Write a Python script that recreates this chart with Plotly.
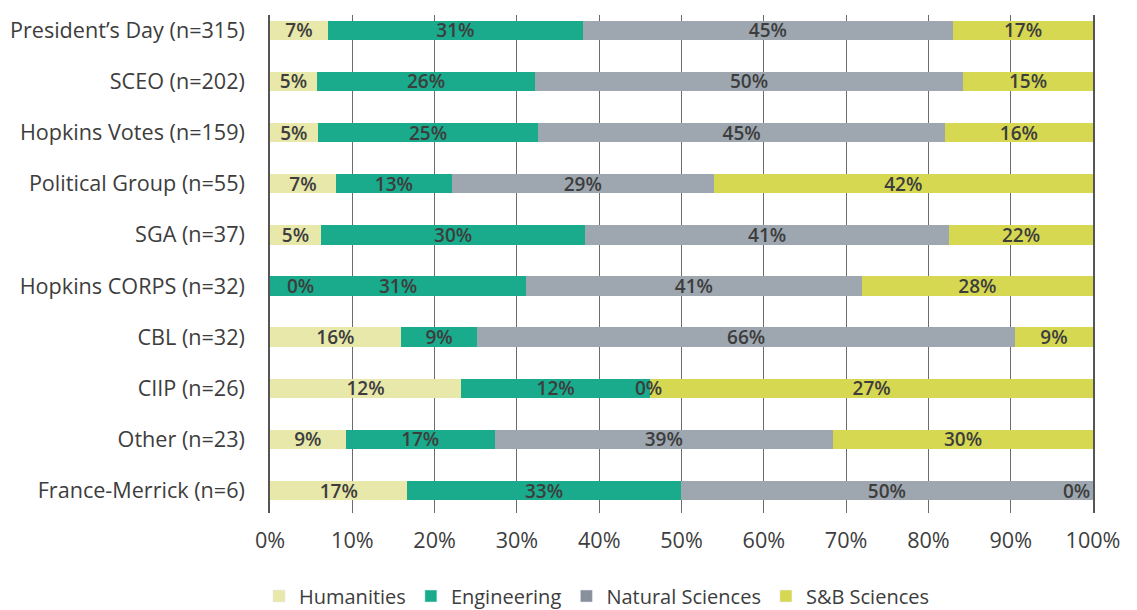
import plotly.graph_objects as go

categories = [
    "President’s Day (n=315)", "SCEO (n=202)", "Hopkins Votes (n=159)",
    "Political Group (n=55)", "SGA (n=37)", "Hopkins CORPS (n=32)",
    "CBL (n=32)", "CIIP (n=26)", "Other (n=23)", "France-Merrick (n=6)",
]
series_names = ["Humanities", "Engineering", "Natural Sciences", "S&B Sciences"]

# bar segment shares (% of bar length)
humanities_share = [7.05, 5.7, 5.8, 8.0, 6.2, 0.0, 15.9, 23.2, 9.2, 16.7]
engineering_share = [30.95, 26.5, 26.8, 14.1, 32.1, 31.1, 9.3, 23.0, 18.1, 33.2]
natural_share = [45.0, 52.0, 49.4, 31.8, 44.2, 40.8, 65.3, 0.0, 41.1, 50.1]
sb_share = [17.0, 15.8, 18.0, 46.1, 17.5, 28.1, 9.5, 53.8, 31.6, 0.0]

# printed data labels (%)
humanities_label = [7, 5, 5, 7, 5, 0, 16, 12, 9, 17]
engineering_label = [31, 26, 25, 13, 30, 31, 9, 12, 17, 33]
natural_label = [45, 50, 45, 29, 41, 41, 66, 0, 39, 50]
sb_label = [17, 15, 16, 42, 22, 28, 9, 27, 30, 0]

x_ticks = list(range(0, 101, 10))
x_tick_text = [f"{v}%" for v in x_ticks]

bar_colors = ["#e8e8aa", "#19ab8c", "#9ea7b0", "#d6d852"]
legend_colors = ["#e8e8aa", "#19ab8c", "#87909b", "#d6d852"]

shares = [humanities_share, engineering_share, natural_share, sb_share]
labels = [humanities_label, engineering_label, natural_label, sb_label]

FONT = "Open Sans"
TXT = "#3d3d3d"
LABEL_FONT = dict(family=FONT, size=19, color=TXT, weight=600)

fig = go.Figure()
for name, sh, lb, col in zip(series_names, shares, labels, bar_colors):
    fig.add_trace(go.Bar(
        y=categories, x=sh, name=name, orientation="h",
        marker=dict(color=col, line=dict(width=0)),
        text=[f"{v}%" if s > 0 else "" for v, s in zip(lb, sh)],
        textposition="inside", insidetextanchor="middle", textangle=0,
        constraintext="none", textfont=LABEL_FONT,
        width=0.38, showlegend=False, hoverinfo="skip",
    ))

for name, col in zip(series_names, legend_colors):
    fig.add_trace(go.Bar(
        y=[None], x=[None], name=name, orientation="h",
        marker=dict(color=col), showlegend=True,
    ))

# labels for zero-width segments
annotations = []
for i, cat in enumerate(categories):
    total = sum(s[i] for s in shares)
    cum = 0.0
    for sh, lb in zip(shares, labels):
        val = sh[i] / total * 100
        if sh[i] == 0:
            if cum <= 0.01:
                xa, xs = "left", 15
            elif cum >= 99.99:
                xa, xs = "right", -1
            else:
                xa, xs = "center", -2
            annotations.append(dict(
                x=cum, y=cat, xref="x", yref="y", text=f"{lb[i]}%",
                showarrow=False, xanchor=xa, xshift=xs, font=LABEL_FONT,
            ))
        cum += val

fig.update_layout(
    barmode="stack", barnorm="percent",
    width=1137, height=610,
    margin=dict(l=262, r=52, t=7, b=105, autoexpand=False),
    plot_bgcolor="white", paper_bgcolor="white",
    font=dict(family=FONT, color=TXT),
    annotations=annotations,
    legend=dict(
        orientation="h", x=-0.0134, xanchor="left", y=-0.1667, yanchor="middle",
        font=dict(family=FONT, size=20, color=TXT),
        traceorder="normal", itemclick=False,
    ),
    xaxis=dict(
        range=[0, 100], tickmode="array", tickvals=x_ticks, ticktext=x_tick_text,
        showgrid=True, gridcolor="#6b6b6b", gridwidth=1, zeroline=False,
        showline=False, ticks="", ticklabelstandoff=12, automargin=False,
        tickfont=dict(family=FONT, size=21.6, color=TXT),
    ),
    yaxis=dict(
        categoryorder="array", categoryarray=categories,
        range=[9.44, -0.30], showgrid=False, zeroline=False,
        showline=True, mirror=True, linecolor="#555555", linewidth=1.5,
        ticks="", ticklabelstandoff=19, automargin=False,
        tickfont=dict(family=FONT, size=21.6, color=TXT),
    ),
)

fig.write_html("out.html")
